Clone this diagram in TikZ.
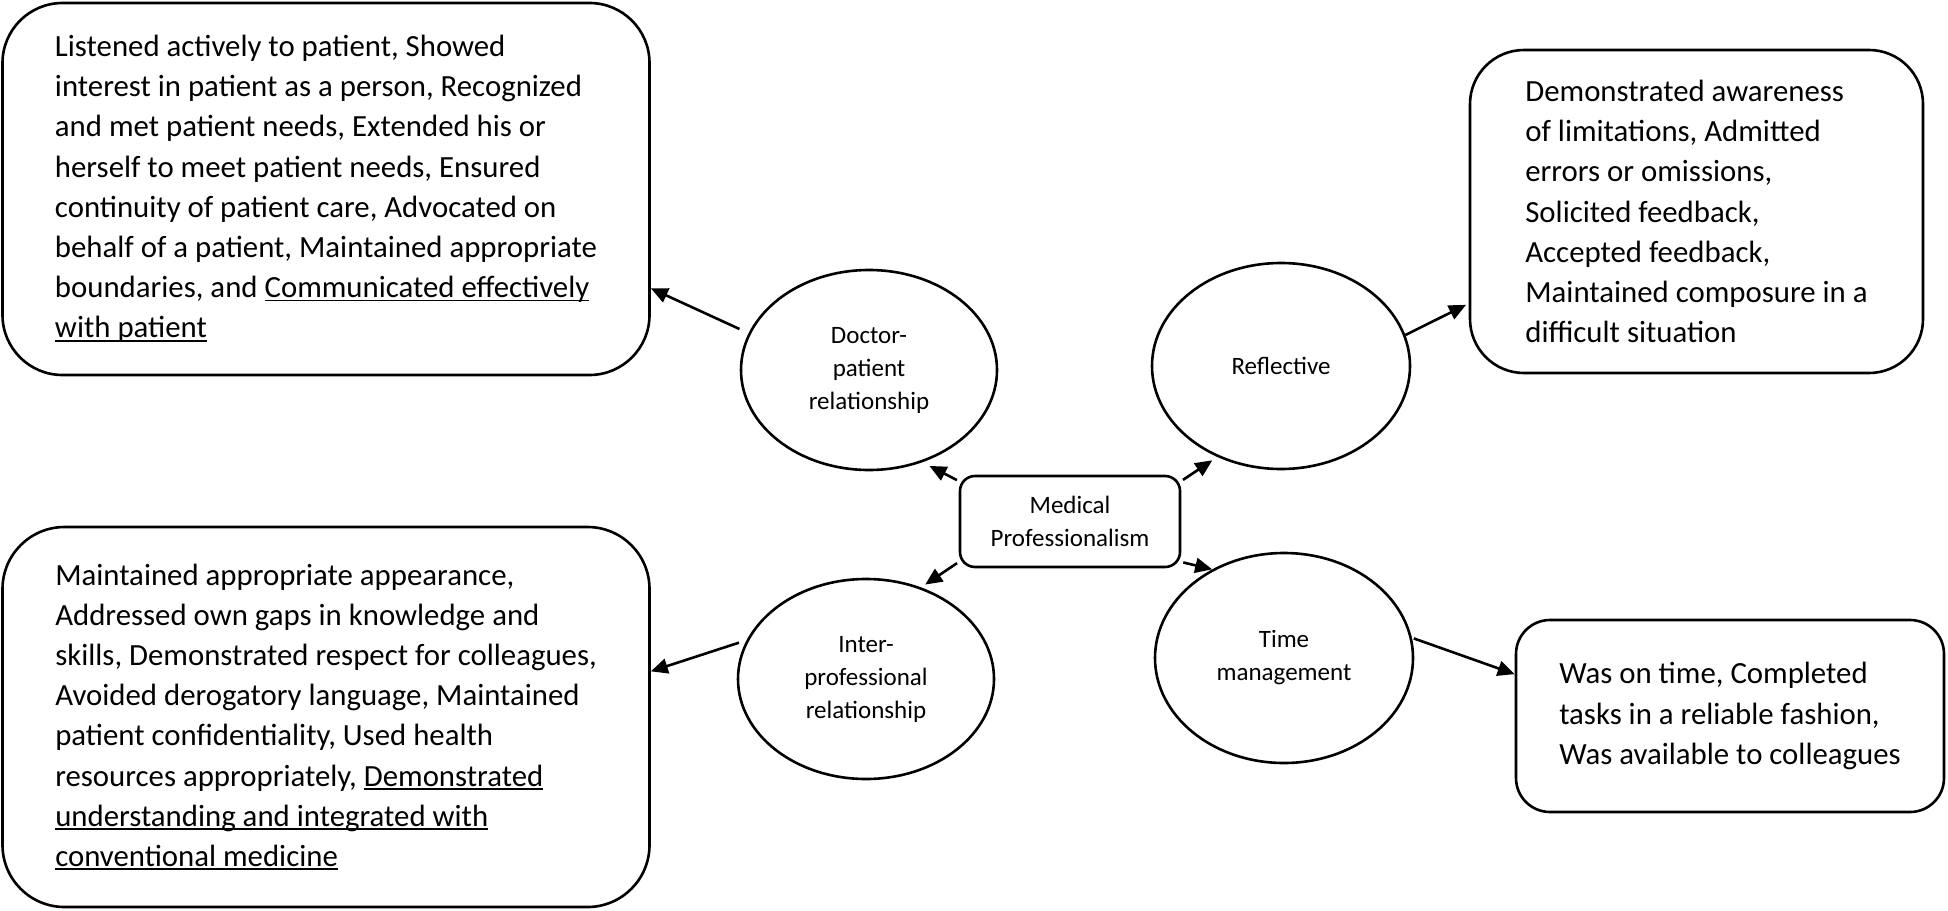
\documentclass[tikz,border=0pt]{standalone}
\usepackage{fontspec}
\setmainfont{Carlito}
\usetikzlibrary{shapes.geometric,arrows.meta}
\newcommand\ulx[1]{\setbox0=\hbox{#1}\rlap{\rule[-0.12em]{\wd0}{0.06em}}\box0}
\begin{document}
\begin{tikzpicture}[x=1pt,y=-1pt,line width=2.6pt,
  bigbox/.style={draw,align=left,inner sep=0pt,font=\fontsize{30.8}{40.2}\selectfont},
  oval/.style={draw,ellipse,inner sep=0pt,align=center,font=\fontsize{25}{33}\selectfont},
  arr/.style={-{Triangle[length=17pt,width=15pt]}}]
\useasboundingbox (0,0) rectangle (1948,910);

\node[bigbox,rounded corners=60pt,minimum width=647pt,minimum height=372pt] (tl) at (326,189)
 {Listened actively to patient, Showed\\
  interest in patient as a person, Recognized\\
  and met patient needs, Extended his or\\
  herself to meet patient needs, Ensured\\
  continuity of patient care, Advocated on\\
  behalf of a patient, Maintained appropriate\\
  boundaries, and \ulx{Communicated effectively}\\
  \ulx{with patient}};

\node[bigbox,rounded corners=54pt,minimum width=453pt,minimum height=323pt] (tr) at (1696.5,211.5)
 {Demonstrated awareness\\
  of limitations, Admitted\\
  errors or omissions,\\
  Solicited feedback,\\
  Accepted feedback,\\
  Maintained composure in a\\
  difficult situation};

\node[bigbox,rounded corners=62pt,minimum width=647pt,minimum height=380pt] (bl) at (326,717)
 {Maintained appropriate appearance,\\
  Addressed own gaps in knowledge and\\
  skills, Demonstrated respect for colleagues,\\
  Avoided derogatory language, Maintained\\
  patient confidentiality, Used health\\
  resources appropriately, \ulx{Demonstrated}\\
  \ulx{understanding and integrated with}\\
  \ulx{conventional medicine}};

\node[bigbox,rounded corners=34pt,minimum width=428pt,minimum height=192pt] (br) at (1730,716)
 {Was on time, Completed\\
  tasks in a reliable fashion,\\
  Was available to colleagues};

\node[oval,minimum width=256pt,minimum height=200pt] (doc) at (869,370) {Doctor-\\patient\\relationship};
\node[oval,minimum width=258pt,minimum height=206pt] (refl) at (1281,366) {Reflective};
\node[oval,minimum width=256pt,minimum height=200pt] (inter) at (866,679) {Inter-\\professional\\relationship};
\node[oval,minimum width=258pt,minimum height=210pt] (time) at (1284,658) {Time\\management};

\node[draw,rounded corners=15pt,minimum width=220pt,minimum height=91pt,inner sep=0pt,
      align=center,font=\fontsize{25}{33}\selectfont] (med) at (1070,521.5) {Medical\\Professionalism};

\draw[arr,shorten <=2pt,shorten >=8pt] (med.160) -- (doc.300);
\draw[arr,shorten <=2pt,shorten >=6pt] (med.20) -- (refl.235);
\draw[arr,shorten <=2pt,shorten >=5pt] (med.200) -- (inter.59);
\draw[arr,shorten <=2pt] (med.-20) -- (time.129);

\draw[arr,shorten <=10pt] (doc.163) -- (tl.-17.5);
\draw[arr,shorten >=3pt] (refl.14) -- (tr.202);
\draw[arr,shorten <=8pt] (inter.162) -- (bl.8);
\draw[arr,shorten <=2pt] (time.9) -- (br.169);
\end{tikzpicture}
\end{document}
